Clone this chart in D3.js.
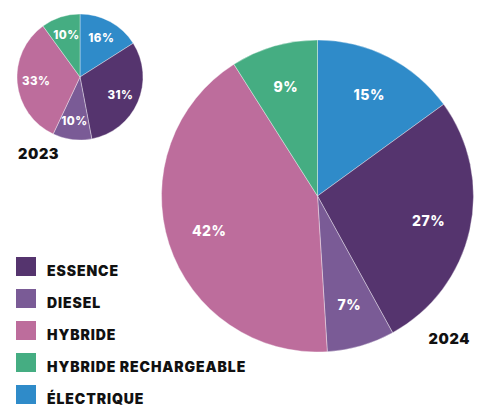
<!DOCTYPE html>
<html><head><meta charset="utf-8">
<script src="https://cdn.jsdelivr.net/npm/d3@7"></script>
<style>
html,body{margin:0;padding:0;background:#fff;}
svg{display:block;font-family:Inter, "Open Sans", sans-serif;}
</style></head>
<body>
<svg id="c" width="497" height="408"></svg>
<script>
const categories = ["ESSENCE","DIESEL","HYBRIDE","HYBRIDE RECHARGEABLE","ÉLECTRIQUE"];
const colors = ["#55346e","#7a5b96","#bd6d9c","#45ad82","#2f8bc9"];
// pie drawing order (clockwise from top)
const sliceOrder = ["ÉLECTRIQUE","ESSENCE","DIESEL","HYBRIDE","HYBRIDE RECHARGEABLE"];
const values2023 = {"ESSENCE":31,"DIESEL":10,"HYBRIDE":33,"HYBRIDE RECHARGEABLE":10,"ÉLECTRIQUE":16};
const values2024 = {"ESSENCE":27,"DIESEL":7,"HYBRIDE":42,"HYBRIDE RECHARGEABLE":9,"ÉLECTRIQUE":15};
const years = ["2023","2024"];

const svg = d3.select("#c");
const color = d3.scaleOrdinal().domain(categories).range(colors);

function drawPie(vals, cx, cy, r, labelFactor, fontSize, title, tx, ty, anchor){
  const g = svg.append("g").attr("transform",`translate(${cx},${cy})`);
  const data = sliceOrder.map(k=>({k, v: vals[k]}));
  const pie = d3.pie().sort(null).value(d=>d.v);
  const arc = d3.arc().innerRadius(0).outerRadius(r);
  const lab = d3.arc().innerRadius(r*labelFactor).outerRadius(r*labelFactor);
  const arcs = pie(data);
  g.selectAll("path").data(arcs).join("path")
    .attr("d",arc).attr("fill",d=>color(d.data.k))
    .attr("stroke","#fff").attr("stroke-width",0.6).attr("stroke-opacity",0.6);
  g.selectAll("text").data(arcs).join("text")
    .attr("transform",d=>`translate(${lab.centroid(d)})`)
    .attr("text-anchor","middle").attr("dy","0.36em")
    .attr("fill","#fff").attr("font-weight",800).attr("font-size",fontSize)
    .attr("letter-spacing",0.5)
    .text(d=>d.data.v+"%");
  svg.append("text").attr("x",tx).attr("y",ty).attr("text-anchor",anchor)
    .attr("font-weight",900).attr("font-size",14.5).attr("letter-spacing",0.6)
    .attr("fill","#111").text(title);
}

drawPie(values2023, 80, 77, 63, 0.7, 11.5, years[0], 18, 159, "start");
drawPie(values2024, 317.5, 196, 156, 0.73, 14, years[1], 470, 344, "end");

const leg = svg.append("g").attr("transform","translate(16,257)");
const rows = leg.selectAll("g").data(categories).join("g")
  .attr("transform",(d,i)=>`translate(0,${i*32})`);
rows.append("rect").attr("width",20).attr("height",19).attr("fill",d=>color(d));
rows.append("text").attr("x",31).attr("y",19).attr("font-weight",900)
  .attr("font-size",14).attr("letter-spacing",0.9).attr("fill","#111").text(d=>d);
</script>
</body></html>
